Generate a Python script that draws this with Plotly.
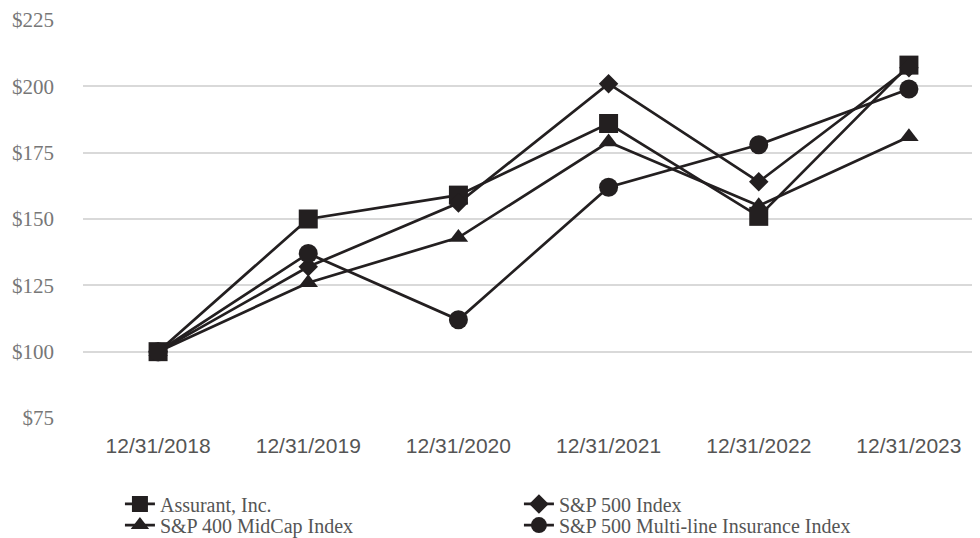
import plotly.graph_objects as go

dates = ["12/31/2018", "12/31/2019", "12/31/2020", "12/31/2021", "12/31/2022", "12/31/2023"]
assurant = [100, 150, 159, 186, 151, 208]
sp500 = [100, 132, 156, 201, 164, 207]
sp400 = [100, 126, 143, 179, 155, 181]
multiline = [100, 137, 112, 162, 178, 199]
y_ticks = [75, 100, 125, 150, 175, 200, 225]
y_tick_labels = ["$75", "$100", "$125", "$150", "$175", "$200", "$225"]

series = [
    ("Assurant, Inc.", assurant, "square", 19, "legend"),
    ("S&P 500 Index", sp500, "diamond", 15, "legend"),
    ("S&P 400 MidCap Index", sp400, "triangle-up", 17, "legend2"),
    ("S&P 500 Multi-line Insurance Index", multiline, "circle", 19, "legend2"),
]

fig = go.Figure()
for name, vals, sym, size, lg in series:
    fig.add_trace(go.Scatter(
        x=dates, y=vals, name=name, mode="lines+markers",
        line=dict(color="#231f20", width=2.7),
        marker=dict(symbol=sym, size=size, color="#231f20"),
        legend=lg,
    ))

legend_common = dict(
    orientation="h", x=0.041, xanchor="left", yanchor="middle",
    entrywidth=354, entrywidthmode="pixels",
    font=dict(family="Liberation Serif", size=20, color="#555"),
    itemwidth=30, bgcolor="rgba(0,0,0,0)",
)

fig.update_layout(
    width=980, height=538,
    margin=dict(l=75, r=4, t=12, b=128, autoexpand=False),
    plot_bgcolor="white", paper_bgcolor="white",
    showlegend=True,
    legend=dict(y=-0.216, **legend_common),
    legend2=dict(y=-0.269, **legend_common),
    xaxis=dict(
        type="category", range=[-0.5, 5.5],
        showgrid=False, zeroline=False, showline=False,
        tickfont=dict(family="Liberation Sans", size=21, color="#555"),
        ticks="", ticklabelstandoff=13, automargin=False,
    ),
    yaxis=dict(
        range=[75, 225], tickvals=y_ticks, ticktext=y_tick_labels,
        showgrid=True, gridcolor="#d9d9d9", gridwidth=1.5, zeroline=False,
        showline=False, ticks="", automargin=False,
        tickfont=dict(family="Liberation Serif", size=21, color="#777"),
        ticklabelstandoff=28,
    ),
)

fig.write_html("out.html")
